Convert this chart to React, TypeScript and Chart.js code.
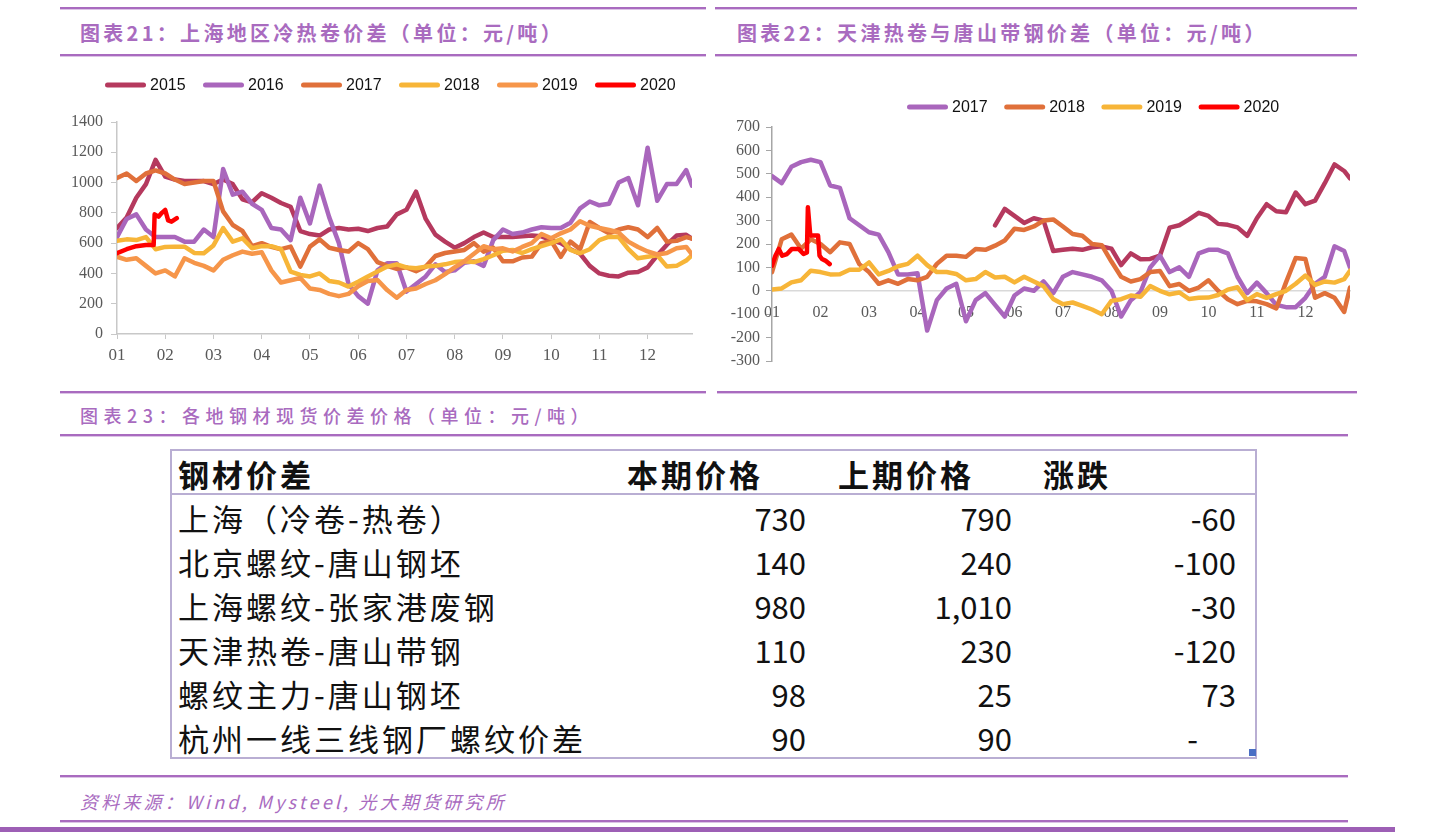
import React, { useEffect, useRef } from 'react';
import { Chart, registerables } from 'chart.js';

Chart.register(...registerables);

// ---------- shared axis data ----------
const MONTH_TICKS = [1, 2, 3, 4, 5, 6, 7, 8, 9, 10, 11, 12];
const MONTH_LABELS = ['01', '02', '03', '04', '05', '06', '07', '08', '09', '10', '11', '12'];
const X_GRID = [
  1.0, 1.2, 1.4, 1.6, 1.8, 2.0, 2.2, 2.4, 2.6, 2.8,
  3.0, 3.2, 3.4, 3.6, 3.8, 4.0, 4.2, 4.4, 4.6, 4.8,
  5.0, 5.2, 5.4, 5.6, 5.8, 6.0, 6.2, 6.4, 6.6, 6.8,
  7.0, 7.2, 7.4, 7.6, 7.8, 8.0, 8.2, 8.4, 8.6, 8.8,
  9.0, 9.2, 9.4, 9.6, 9.8, 10.0, 10.2, 10.4, 10.6, 10.8,
  11.0, 11.2, 11.4, 11.6, 11.8, 12.0, 12.2, 12.4, 12.6, 12.8,
  12.92,
];

// ---------- chart 21: Shanghai cold-hot coil spread ----------
const C1_2015 = [
  700, 770, 900, 990, 1150, 1040, 1020, 1010, 1010, 1010,
  990, 1020, 990, 890, 870, 930, 900, 865, 840, 680,
  660, 650, 690, 700, 690, 695, 680, 700, 710, 790,
  820, 940, 760, 656, 610, 570, 600, 640, 670, 640,
  640, 640, 645, 650, 645, 620, 600, 560, 530, 450,
  400, 385, 380, 405, 410, 440, 520, 590, 650, 655,
  630,
];
const C1_2016 = [
  640, 760, 790, 690, 640, 640, 640, 610, 610, 690,
  640, 1090, 920, 940, 860, 820, 700, 690, 620, 900,
  730, 980, 770, 600, 330, 250, 200, 420, 467, 467,
  280, 330, 380, 460, 410, 420, 470, 480, 450, 620,
  690, 660, 670, 690, 705, 700, 700, 735, 830, 875,
  850, 860, 1000, 1030, 850, 1230, 880, 990, 990, 1083,
  980,
];
const C1_2017 = [
  1030, 1060, 1010, 1060, 1080, 1060, 1020, 990, 1000, 1010,
  1010, 810, 720, 680, 580, 600, 575, 560, 577, 445,
  577, 625, 570, 555, 545, 600, 560, 475, 450, 430,
  440, 415, 445, 515, 535, 545, 555, 600, 544, 570,
  480, 480, 505, 511, 600, 615, 510, 610, 560, 740,
  700, 665, 690, 705, 690, 640, 700, 610, 615, 640,
  630,
];
const C1_2018 = [
  615, 625, 620, 640, 560, 575, 577, 577, 535, 533,
  585, 700, 610, 632, 566, 580, 580, 560, 412, 390,
  380, 400, 350, 340, 313, 345, 380, 412, 445, 460,
  440, 434, 445, 450, 460, 475, 480, 475, 495, 520,
  550, 555, 535, 560, 580, 600, 625, 555, 533, 560,
  620, 643, 640, 560, 500, 510, 520, 445, 450, 485,
  520,
];
const C1_2019 = [
  510, 490, 500, 450, 400, 420, 380, 500, 470, 450,
  420, 490, 520, 544, 530, 540, 420, 340, 355, 370,
  300, 291, 265, 250, 265, 315, 350, 357, 290, 240,
  290, 300, 330, 355, 395, 440, 480, 530, 580, 560,
  566, 545, 575, 600, 660, 632, 665, 690, 745, 715,
  700, 687, 670, 610, 575, 545, 525, 535, 566, 575,
  525,
];
const C1_2020_X = [1.0, 1.2, 1.4, 1.6, 1.76, 1.78, 1.86, 1.93, 2.0, 2.06, 2.13, 2.24];
const C1_2020 = [533, 560, 580, 588, 588, 790, 775, 800, 819, 750, 742, 765];

// ---------- chart 22: Tianjin HRC - Tangshan strip spread ----------
const C2_2017 = [
  490, 460, 530, 550, 560, 550, 450, 440, 310, 280,
  250, 240, 165, 70, 70, 75, -170, -40, 10, 30,
  -130, -40, -10, -60, -110, -20, 10, 0, 40, -10,
  60, 80, 70, 60, 45, 0, -110, -40, -5, 100,
  150, 80, 100, 60, 160, 175, 175, 160, 60, -10,
  35, -10, -60, -70, -70, -30, 30, 60, 190, 170,
  100,
];
const C2_2018 = [
  80, 220, 240, 180, 220, 200, 165, 207, 200, 114,
  80, 30, 45, 30, 50, 45, 60, 115, 150, 150,
  145, 179, 175, 193, 215, 265, 260, 275, 300, 305,
  275, 243, 235, 200, 195, 125, 60, 40, 50, 80,
  85, 20, 29, 0, 14, 45, 0, -36, -57, -43,
  -45, -57, -75, 36, 140, 136, -30, -10, -30, -90,
  14,
];
const C2_2019 = [
  5, 10, 36, 45, 86, 80, 70, 71, 90, 90,
  121, 70, 85, 105, 115, 150, 110, 80, 80, 72,
  45, 50, 80, 57, 60, 36, 60, 40, 20, -35,
  -57, -50, -64, -80, -100, -43, -36, -20, -25, 20,
  0, -15, -7, -35, -30, -29, -18, 5, 15, -40,
  -14, -30, -14, 0, 30, 65, 25, 40, 35, 50,
  86,
];
const C2_EXTRA = [
  null, null, null, null, null, null, null, null, null, null,
  null, null, null, null, null, null, null, null, null, null,
  null, null, null, 280, 350, 320, 290, 310, 300, 170,
  175, 180, 175, 186, 190, 180, 110, 160, 135, 136,
  150, 270, 280, 305, 333, 320, 286, 282, 271, 235,
  310, 370, 340, 336, 420, 370, 385, 460, 540, 512,
  480,
];
const C2_2020_X = [1.0, 1.07, 1.14, 1.21, 1.31, 1.41, 1.55, 1.65, 1.72, 1.74, 1.79, 1.95, 1.98, 2.03, 2.1, 2.19];
const C2_2020 = [107, 150, 179, 150, 157, 179, 179, 157, 164, 357, 236, 236, 150, 136, 129, 114];

// ---------- table ----------
const TABLE_HEADERS = ['钢材价差', '本期价格', '上期价格', '涨跌'];
const TABLE_NAMES = ['上海（冷卷-热卷）', '北京螺纹-唐山钢坯', '上海螺纹-张家港废钢', '天津热卷-唐山带钢', '螺纹主力-唐山钢坯', '杭州一线三线钢厂螺纹价差'];
const TABLE_CURRENT = ['730', '140', '980', '110', '98', '90'];
const TABLE_PREVIOUS = ['790', '240', '1,010', '230', '25', '90'];
const TABLE_CHANGE = ['-60', '-100', '-30', '-120', '73', '-'];

const COLORS = {
  y2015: '#b5395e',
  y2016: '#a966bc',
  y2017: '#e0703a',
  y2018: '#f7b538',
  y2019: '#f6964a',
  y2020: '#ff0000',
};
const PURPLE = '#a96bbf';

const zip = (xs: number[], ys: (number | null)[]) => xs.map((x, i) => ({ x, y: ys[i] }));

const lineLegend = {
  id: 'lineLegend',
  afterDraw(chart: any, _args: any, opts: any) {
    const ctx = chart.ctx;
    const items = chart.data.datasets.filter((d: any) => d.label);
    ctx.save();
    ctx.font = opts.font;
    ctx.textBaseline = 'middle';
    items.forEach((ds: any, i: number) => {
      const x0 = opts.x + i * opts.step;
      ctx.strokeStyle = ds.borderColor;
      ctx.lineWidth = opts.lineWidth;
      ctx.lineCap = 'round';
      ctx.beginPath();
      ctx.moveTo(x0 + opts.lineWidth / 2, opts.y);
      ctx.lineTo(x0 + opts.sample - opts.lineWidth / 2, opts.y);
      ctx.stroke();
      ctx.fillStyle = '#111';
      ctx.fillText(ds.label, x0 + opts.sample + opts.gap, opts.y + 1);
    });
    ctx.restore();
  },
};

const lineDs = (label: string, color: string, data: any[], order: number) => ({
  label,
  data,
  borderColor: color,
  backgroundColor: color,
  borderWidth: 4.5,
  pointRadius: 0,
  tension: 0,
  borderJoinStyle: 'round' as const,
  borderCapStyle: 'round' as const,
  spanGaps: false,
  order,
});

const tickFont = { family: "'Liberation Serif', 'Times New Roman', serif", size: 16 };
const AXIS_GRAY = '#c8c8c8';

function ChartCanvas({ config, width, height, style }: any) {
  const ref = useRef<HTMLCanvasElement | null>(null);
  useEffect(() => {
    if (!ref.current) return;
    const chart = new Chart(ref.current, config);
    return () => chart.destroy();
  }, []);
  return <canvas ref={ref} width={width} height={height} style={{ position: 'absolute', width, height, ...style }} />;
}

const chart1Config: any = {
  type: 'line',
  data: {
    datasets: [
      lineDs('2015', COLORS.y2015, zip(X_GRID, C1_2015), 5),
      lineDs('2016', COLORS.y2016, zip(X_GRID, C1_2016), 4),
      lineDs('2017', COLORS.y2017, zip(X_GRID, C1_2017), 3),
      lineDs('2018', COLORS.y2018, zip(X_GRID, C1_2018), 2),
      lineDs('2019', COLORS.y2019, zip(X_GRID, C1_2019), 1),
      lineDs('2020', COLORS.y2020, zip(C1_2020_X, C1_2020), 0),
    ],
  },
  options: {
    animation: false,
    responsive: false,
    devicePixelRatio: 1,
    layout: { padding: { top: 62, right: 18, left: 0, bottom: 0 } },
    plugins: {
      legend: { display: false },
      tooltip: { enabled: false },
      lineLegend: {
        x: 45, y: 25, step: 98, sample: 41, gap: 4, lineWidth: 5,
        font: "16px 'Liberation Sans Narrow', 'Liberation Sans', Arial, sans-serif",
      },
    },
    scales: {
      x: {
        type: 'linear',
        min: 1,
        max: 12.92,
        afterBuildTicks: (a: any) => { a.ticks = MONTH_TICKS.map((v) => ({ value: v })); },
        afterFit: (s: any) => { s.height = 56; },
        grid: { drawOnChartArea: false, tickLength: 5, color: AXIS_GRAY },
        border: { color: AXIS_GRAY, width: 1.5 },
        ticks: {
          autoSkip: false, maxRotation: 0, padding: 6, color: '#595959',
          font: { ...tickFont, size: 17 },
          callback: (_v: any, i: number) => MONTH_LABELS[i],
        },
      },
      y: {
        min: 0,
        max: 1400,
        afterFit: (s: any) => { s.width = 57; },
        grid: { drawOnChartArea: false, tickLength: 6, color: AXIS_GRAY },
        border: { color: AXIS_GRAY, width: 1.5 },
        ticks: { stepSize: 200, padding: 8, color: '#595959', font: tickFont, callback: (v: any) => String(v) },
      },
    },
  },
  plugins: [lineLegend],
};

const chart2Config: any = {
  type: 'line',
  data: {
    datasets: [
      lineDs('', COLORS.y2015, zip(X_GRID, C2_EXTRA), 4),
      lineDs('2017', COLORS.y2016, zip(X_GRID, C2_2017), 3),
      lineDs('2018', COLORS.y2017, zip(X_GRID, C2_2018), 2),
      lineDs('2019', COLORS.y2018, zip(X_GRID, C2_2019), 1),
      lineDs('2020', COLORS.y2020, zip(C2_2020_X, C2_2020), 0),
    ],
  },
  options: {
    animation: false,
    responsive: false,
    devicePixelRatio: 1,
    layout: { padding: { top: 37, right: 10, left: 0, bottom: 19 } },
    plugins: {
      legend: { display: false },
      tooltip: { enabled: false },
      lineLegend: {
        x: 192, y: 17, step: 97.2, sample: 41, gap: 4, lineWidth: 5,
        font: "16px 'Liberation Sans Narrow', 'Liberation Sans', Arial, sans-serif",
      },
    },
    scales: {
      x: {
        type: 'linear',
        min: 1,
        max: 12.92,
        position: { y: 0 },
        afterBuildTicks: (a: any) => { a.ticks = MONTH_TICKS.map((v) => ({ value: v })); },
        afterFit: (s: any) => { s.height = 0; },
        grid: { drawOnChartArea: false, drawTicks: false, color: '#d9d9d9' },
        border: { color: '#d9d9d9', width: 1.5 },
        ticks: {
          autoSkip: false, maxRotation: 0, padding: 12, color: '#595959',
          font: tickFont,
          callback: (_v: any, i: number) => MONTH_LABELS[i],
        },
      },
      y: {
        min: -300,
        max: 700,
        afterFit: (s: any) => { s.width = 57; },
        grid: { drawOnChartArea: false, tickLength: 6, color: '#a6a6a6' },
        border: { color: '#a6a6a6', width: 1.5 },
        ticks: { stepSize: 100, padding: 6, color: '#595959', font: tickFont, callback: (v: any) => String(v) },
      },
    },
  },
  plugins: [lineLegend],
};

function HLine({ x1, x2, y, h = 3 }: any) {
  return (
    <div
      style={{
        position: 'absolute', left: x1, top: y - h / 2, width: x2 - x1, height: h,
        background: `linear-gradient(${PURPLE} 0 67%, #dcc4e6 67% 100%)`,
      }}
    />
  );
}

const cjk = "'Noto Sans CJK SC', 'Noto Sans', sans-serif";

export default function App() {
  const titleStyle: any = {
    position: 'absolute', fontFamily: cjk, fontWeight: 700, fontSize: 20, color: PURPLE,
    letterSpacing: '3.3px', lineHeight: '24px', whiteSpace: 'nowrap',
  };
  const rowTop = (i: number) => 496 + i * 44;
  const cellText: any = {
    position: 'absolute', fontFamily: cjk, fontSize: 31, lineHeight: '44px', color: '#111', whiteSpace: 'nowrap',
  };
  return (
    <div style={{ position: 'fixed', left: 0, top: 0, width: 1440, height: 832, background: '#fff', overflow: 'hidden' }}>
      <HLine x1={60} x2={706} y={8} />
      <HLine x1={715} x2={1357} y={8} />
      <div style={{ ...titleStyle, left: 80, top: 21 }}>图表21：上海地区冷热卷价差（单位：元/吨）</div>
      <div style={{ ...titleStyle, left: 737, top: 21 }}>图表22：天津热卷与唐山带钢价差（单位：元/吨）</div>
      <HLine x1={60} x2={706} y={55} />
      <HLine x1={715} x2={1357} y={55} />

      <ChartCanvas config={chart1Config} width={650} height={330} style={{ left: 60, top: 60 }} />
      <ChartCanvas config={chart2Config} width={645} height={290} style={{ left: 715, top: 90 }} />

      <HLine x1={60} x2={706} y={392} />
      <HLine x1={717} x2={1357} y={392} />
      <div style={{ ...titleStyle, left: 80, top: 403, fontSize: 18, fontWeight: 500, letterSpacing: '5.5px' }}>
        图表23：各地钢材现货价差价格（单位：元/吨）
      </div>
      <HLine x1={60} x2={1348} y={435} />

      {/* table */}
      <div style={{ position: 'absolute', left: 170, top: 449, width: 1083, height: 306, border: '2px solid #b9aed3' }} />
      <div style={{ position: 'absolute', left: 172, top: 493, width: 1083, height: 2, background: '#b9aed3' }} />
      <div style={{ ...cellText, left: 178, top: 452, fontWeight: 700, letterSpacing: '3px' }}>{TABLE_HEADERS[0]}</div>
      <div style={{ ...cellText, left: 627, top: 452, fontWeight: 700, letterSpacing: '3px' }}>{TABLE_HEADERS[1]}</div>
      <div style={{ ...cellText, left: 838, top: 452, fontWeight: 700, letterSpacing: '3px' }}>{TABLE_HEADERS[2]}</div>
      <div style={{ ...cellText, left: 1043, top: 452, fontWeight: 700, letterSpacing: '3px' }}>{TABLE_HEADERS[3]}</div>
      {TABLE_NAMES.map((n, i) => (
        <div key={'n' + i} style={{ ...cellText, left: 178, top: rowTop(i), letterSpacing: '3px' }}>{n}</div>
      ))}
      {TABLE_CURRENT.map((n, i) => (
        <div key={'c' + i} style={{ ...cellText, right: 1440 - 806, top: rowTop(i) }}>{n}</div>
      ))}
      {TABLE_PREVIOUS.map((n, i) => (
        <div key={'p' + i} style={{ ...cellText, right: 1440 - 1012, top: rowTop(i) }}>{n}</div>
      ))}
      {TABLE_CHANGE.map((n, i) => (
        <div key={'d' + i} style={{ ...cellText, right: n === '-' ? 1440 - 1198 : 1440 - 1236, top: rowTop(i) }}>{n}</div>
      ))}
      <div style={{ position: 'absolute', left: 1249, top: 749, width: 7, height: 7, background: '#4a6fc4' }} />

      <HLine x1={60} x2={1348} y={776} />
      <div style={{ ...titleStyle, left: 80, top: 789, fontSize: 18, fontWeight: 400, fontStyle: 'italic', letterSpacing: '3.2px' }}>
        资料来源：Wind, Mysteel, 光大期货研究所
      </div>
      <HLine x1={60} x2={1348} y={821} />
      <div style={{ position: 'absolute', left: 0, top: 827, width: 1395, height: 5, background: '#9d5fb5' }} />
    </div>
  );
}
